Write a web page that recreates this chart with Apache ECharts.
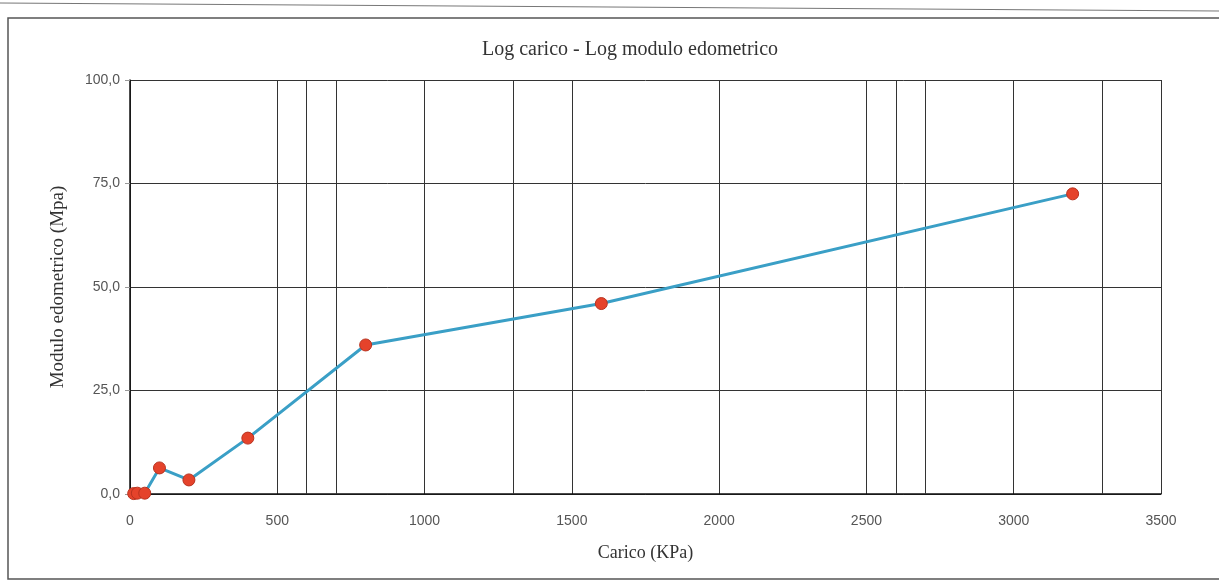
<!DOCTYPE html>
<html>
<head>
<meta charset="utf-8">
<script src="https://cdn.jsdelivr.net/npm/echarts@6/dist/echarts.min.js"></script>
<style>
html,body{margin:0;padding:0;background:#fff;}
#chart{width:1219px;height:582px;}
</style>
</head>
<body>
<div id="chart"></div>
<script>
const title = "Log carico - Log modulo edometrico";
const xName = "Carico (KPa)";
const yName = "Modulo edometrico (Mpa)";
const loads = [12.5, 25, 50, 100, 200, 400, 800, 1600, 3200];
const moduli = [0.1, 0.2, 0.2, 6.3, 3.4, 13.5, 36.0, 46.0, 72.5];
const extraVerticalLines = [600, 700, 1300, 2600, 2700, 3300];

const chart = echarts.init(document.getElementById('chart'));
chart.setOption({
  backgroundColor: '#fff',
  animation: false,
  title: {
    text: title, left: 625, textAlign: 'center', top: 35,
    textStyle: {fontFamily: 'Liberation Serif', fontWeight: 'normal', fontSize: 20, color: '#333'}
  },
  graphic: [{
    type: 'rect', shape: {x: 8, y: 18, width: 1215, height: 561},
    style: {fill: 'none', stroke: '#555', lineWidth: 1.5}, silent: true
  }, {
    type: 'line', shape: {x1: 0, y1: 3, x2: 1219, y2: 11},
    style: {stroke: '#777', lineWidth: 1.2}, silent: true
  }],
  grid: {left: 130, right: 58, top: 80, bottom: 88},
  xAxis: {
    type: 'value', min: 0, max: 3500, interval: 500,
    name: xName, nameLocation: 'middle', nameGap: 50,
    nameTextStyle: {fontFamily: 'Liberation Serif', fontSize: 18, color: '#333'},
    axisLine: {show: true, lineStyle: {color: '#111', width: 1.5}},
    axisTick: {show: false},
    axisLabel: {fontFamily: 'Liberation Sans', fontSize: 14, color: '#555', margin: 20,
      formatter: v => String(v)},
    splitLine: {show: true, lineStyle: {color: '#333', width: 1}}
  },
  yAxis: {
    type: 'value', min: 0, max: 100, interval: 25,
    name: yName, nameLocation: 'middle', nameGap: 62, nameRotate: 90,
    nameTextStyle: {fontFamily: 'Liberation Serif', fontSize: 19, color: '#333'},
    axisLine: {show: true, lineStyle: {color: '#111', width: 1.5}},
    axisTick: {show: true, length: 5, lineStyle: {color: '#999'}},
    axisLabel: {fontFamily: 'Liberation Sans', fontSize: 14, color: '#555', margin: 10,
      formatter: v => v.toFixed(1).replace('.', ',')},
    splitLine: {show: true, lineStyle: {color: '#333', width: 1}}
  },
  series: [{
    type: 'line',
    data: loads.map((x, i) => [x, moduli[i]]),
    symbol: 'circle', symbolSize: 12,
    lineStyle: {color: '#3a9fc6', width: 3},
    itemStyle: {color: '#e5432b', borderColor: '#b8321f', borderWidth: 1},
    z: 5,
    markLine: {
      silent: true, symbol: 'none', label: {show: false},
      lineStyle: {color: '#333', width: 1, type: 'solid'},
      data: extraVerticalLines.map(v => ({xAxis: v}))
    }
  }]
});
</script>
</body>
</html>
